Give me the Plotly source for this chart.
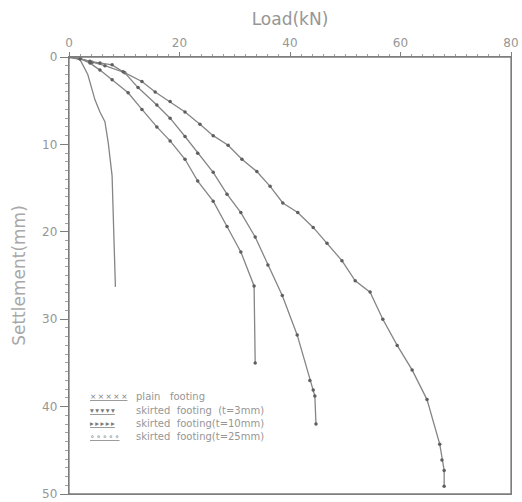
import plotly.graph_objects as go

# Plain footing
plain_load = [0, 2.0, 3.4, 4.7, 5.6, 6.5, 7.1, 7.8, 8.1, 8.3, 8.4]
plain_settle = [0, 0.3, 2.0, 4.9, 6.3, 7.4, 9.8, 13.6, 20.0, 24.0, 26.3]

# Skirted footing t=3mm
t3_load = [0, 2.0, 3.8, 5.6, 7.8, 10.7, 13.2, 15.9, 18.3, 21.0, 23.3, 26.1, 28.6, 31.1, 33.5, 33.7]
t3_settle = [0, 0.2, 0.7, 1.5, 2.6, 4.1, 6.0, 8.0, 9.6, 11.7, 14.2, 16.5, 19.4, 22.3, 26.2, 35.0]

# Skirted footing t=10mm
t10_load = [0, 2.0, 4.2, 6.5, 10.1, 12.5, 15.9, 18.3, 21.0, 23.3, 26.1, 28.6, 31.1, 33.7, 36.0, 38.6, 41.3, 43.6, 44.2, 44.5, 44.7]
t10_settle = [0, 0.2, 0.6, 1.0, 1.8, 3.5, 5.5, 7.0, 9.1, 11.0, 13.2, 15.7, 17.8, 20.6, 23.8, 27.3, 31.8, 37.0, 38.1, 38.8, 42.0]

# Skirted footing t=25mm
t25_load = [0, 2.0, 3.8, 5.6, 7.8, 9.8, 13.2, 15.6, 18.3, 21.0, 23.7, 26.1, 28.8, 31.3, 34.0, 36.4, 38.7, 41.4, 44.2, 46.7, 49.4, 51.8, 54.5, 56.8, 59.4, 62.1, 64.8, 67.1, 67.5, 67.9, 67.9]
t25_settle = [0, 0.2, 0.5, 0.7, 0.9, 1.7, 2.8, 4.0, 5.1, 6.3, 7.7, 9.0, 10.1, 11.7, 13.1, 14.8, 16.7, 17.8, 19.5, 21.3, 23.3, 25.6, 26.9, 30.0, 33.0, 35.8, 39.2, 44.3, 46.1, 47.3, 49.1]

names = ["plain   footing", "skirted  footing  (t=3mm)",
         "skirted  footing(t=10mm)", "skirted  footing(t=25mm)"]
legend_glyphs = ["×", "▾", "▸", "∘"]

line_col = "#858585"
text_col = "#969696"
axis_col = "#7e7e7e"
font_fam = "DejaVu Sans"

fig = go.Figure()
series = [
    (plain_load, plain_settle, 0),
    (t3_load, t3_settle, 3.5),
    (t10_load, t10_settle, 3.5),
    (t25_load, t25_settle, 3.5),
]
for (xs, ys, msize), nm in zip(series, names):
    fig.add_trace(go.Scatter(
        x=xs, y=ys, name=nm, mode="lines+markers" if msize else "lines",
        line=dict(color=line_col, width=1.3),
        marker=dict(symbol="circle", size=msize, color="#5e5e5e"),
        showlegend=False, hoverinfo="skip",
    ))

# hand-built legend (rows of glyphs + labels)
row_y = [0.222, 0.192, 0.162, 0.132]
for g, n, yy in zip(legend_glyphs, names, row_y):
    fig.add_annotation(
        xref="paper", yref="paper", x=0.042, y=yy, xanchor="left", yanchor="middle",
        text="<u>" + "\u2009".join([g] * 5) + "</u>", showarrow=False,
        font=dict(size=7.5, color="#7a7a7a", family=font_fam),
    )
    fig.add_annotation(
        xref="paper", yref="paper", x=0.148, y=yy, xanchor="left", yanchor="middle",
        text=n, showarrow=False,
        font=dict(size=10, color=text_col, family=font_fam),
    )

# plot frame (right and bottom edges)
fig.add_shape(type="rect", xref="paper", yref="paper", x0=0, x1=1, y0=0, y1=1,
              line=dict(color=axis_col, width=1.3), layer="above")

fig.update_layout(
    width=522, height=502,
    margin=dict(l=69, r=11, t=57, b=8),
    paper_bgcolor="white", plot_bgcolor="white",
    font=dict(family=font_fam, color=text_col, size=12),
    showlegend=False,
    xaxis=dict(
        side="top", range=[0, 80], tickvals=[0, 20, 40, 60, 80], automargin=False,
        ticklabeloverflow="allow",
        showgrid=False, zeroline=False, showline=True, linecolor=axis_col,
        linewidth=1.2, mirror=True, ticks="outside", ticklen=4, tickcolor=axis_col,
        minor=dict(dtick=2, ticks="outside", ticklen=2, tickcolor="#a0a0a0", showgrid=False),
        title=dict(text="Load(kN)", font=dict(size=17, color=text_col), standoff=6),
        tickfont=dict(size=12, color=text_col),
    ),
    yaxis=dict(
        range=[50, 0], tickvals=[0, 10, 20, 30, 40, 50], automargin=False,
        ticklabeloverflow="allow",
        showgrid=False, zeroline=False, showline=True, linecolor=axis_col,
        linewidth=1.2, mirror=True, ticks="outside", ticklen=8, tickcolor=axis_col,
        minor=dict(dtick=1, ticks="outside", ticklen=3, tickcolor="#a0a0a0", showgrid=False),
        title=dict(text="Settlement(mm)", font=dict(size=17, color="#a8a8a8"), standoff=12),
        tickfont=dict(size=12, color=text_col),
    ),
)

fig.write_html(
    "out.html",
    config={"displayModeBar": False, "staticPlot": True},
    post_script="document.body.style.margin='0';document.body.style.overflow='hidden';",
)
